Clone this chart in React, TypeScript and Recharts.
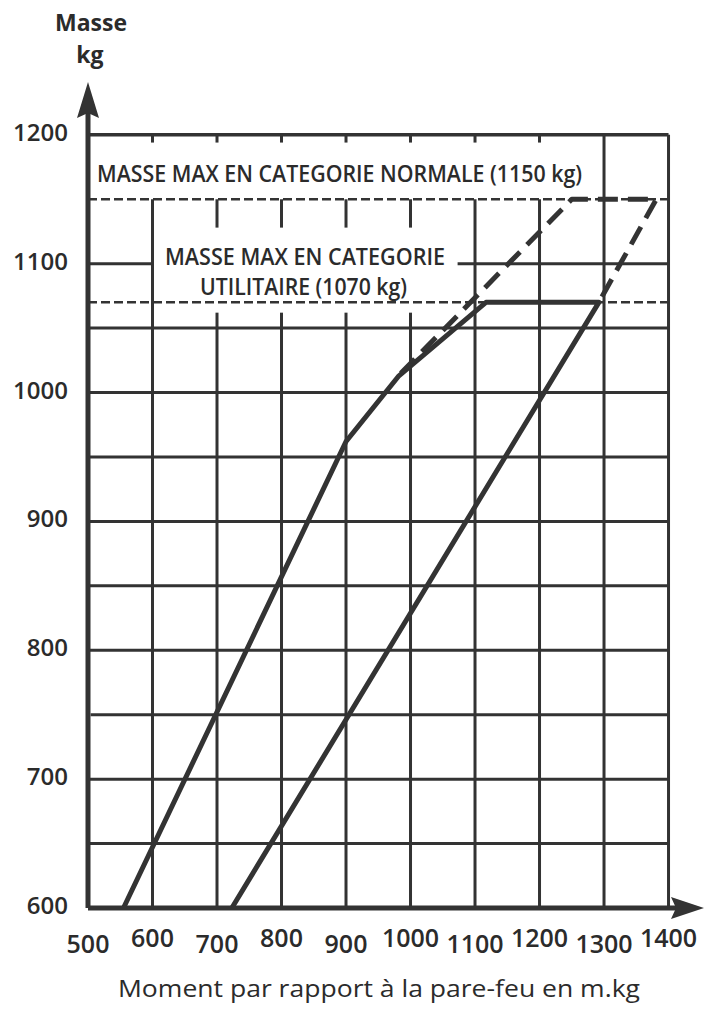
import React from 'react';
import { ComposedChart, Line, XAxis, YAxis, ReferenceLine, ReferenceDot } from 'recharts';

// axis ticks
const xTicks = [500, 600, 700, 800, 900, 1000, 1100, 1200, 1300, 1400];
const yTicks = [600, 700, 800, 900, 1000, 1100, 1200];

// catégorie utilitaire (trait plein)
const utilEnvelope = [
  { m: 555, kg: 600 },
  { m: 900, kg: 962 },
  { m: 982, kg: 1013 },
  { m: 1117, kg: 1070 },
  { m: 1292, kg: 1070 },
  { m: 723, kg: 600 },
];

// extension catégorie normale (tirets)
const normalEnvelope = [
  { m: 985, kg: 1015 },
  { m: 1250, kg: 1150 },
  { m: 1381, kg: 1150 },
  { m: 1292, kg: 1070 },
];

const massLimits = [1150, 1070];

// grid pieces
const fullRows = [650, 700, 750, 800, 850, 900, 950, 1000, 1050];
const colsTo1050 = [700, 800, 900, 1000];
const colsTo1150 = [600, 1100, 1200];
const colsTo1200 = [1300, 1400];
const topStubs = [600, 700, 800, 900, 1000, 1100, 1200];
const stubs1150 = [700, 800, 900, 1000];
const stubs1070 = [700, 800, 900, 1000];

const INK = '#333333';
const FONT = "'Open Sans', sans-serif";

const XTick = (props: any) => {
  const { x, y, payload } = props;
  const i = xTicks.indexOf(payload.value);
  return (
    <text x={x} y={y + (i % 2 === 0 ? 45 : 39)} textAnchor="middle" fontFamily={FONT} fontSize={25} fontWeight={600} fill="#2b2b2b">
      {payload.value}
    </text>
  );
};

const YTick = (props: any) => {
  const { x, y, payload } = props;
  return (
    <text x={x - 20} y={y + 6} textAnchor="end" fontFamily={FONT} fontSize={24} fontWeight={600} fill="#2b2b2b">
      {payload.value}
    </text>
  );
};

const seg = (x1: number, y1: number, x2: number, y2: number, key: string, w = 3, dash?: string) => (
  <ReferenceLine
    key={key}
    segment={[{ x: x1, y: y1 }, { x: x2, y: y2 }]}
    stroke={INK}
    strokeWidth={w}
    strokeDasharray={dash}
  />
);

export default function App() {
  return (
    <div style={{ position: 'absolute', left: 0, top: 0, background: '#fff' }}>
      <ComposedChart width={709} height={1009} margin={{ top: 82, right: 5, left: 0, bottom: 0 }}>
        <XAxis
          dataKey="m"
          type="number"
          domain={[500, 1455]}
          ticks={xTicks}
          height={101}
          axisLine={false}
          tickLine={false}
          tickSize={0}
          tickMargin={0}
          tick={<XTick />}
          interval={0}
        />
        <YAxis
          dataKey="kg"
          type="number"
          domain={[600, 1241]}
          ticks={yTicks}
          width={88}
          axisLine={false}
          tickLine={false}
          tickSize={0}
          tickMargin={0}
          tick={<YTick />}
          interval={0}
        />

        {fullRows.map((v) => seg(v === 750 ? 504 : 500, v, 1400, v, 'r' + v))}
        {seg(500, 1100, 600, 1100, 'r1100a')}
        {seg(1073, 1100, 1400, 1100, 'r1100b')}
        {seg(500, 1200, 1400, 1200, 'top', 3.5)}
        {colsTo1050.map((v) => seg(v, 600, v, 1050, 'c' + v))}
        {colsTo1150.map((v) => seg(v, 600, v, 1150, 'd' + v))}
        {colsTo1200.map((v) => seg(v, 600, v, 1200, 'e' + v))}
        {topStubs.map((v) => seg(v, 1200, v, 1194, 's' + v))}
        {stubs1150.map((v) => seg(v, 1150, v, 1128, 't' + v))}
        {stubs1070.map((v) => seg(v, 1062, v, 1050, 'u' + v))}
        {massLimits.map((v) => seg(500, v, 1400, v, 'lim' + v, 2.5, '9 4'))}

        <Line
          data={utilEnvelope}
          dataKey="kg"
          type="linear"
          stroke={INK}
          strokeWidth={5}
          strokeLinejoin="round"
          dot={false}
          activeDot={false}
          isAnimationActive={false}
        />
        <Line
          data={normalEnvelope}
          dataKey="kg"
          type="linear"
          stroke={INK}
          strokeWidth={5}
          strokeDasharray="20 10"
          strokeLinejoin="round"
          dot={false}
          activeDot={false}
          isAnimationActive={false}
        />

        {seg(500, 600, 500, 1225, 'yaxis', 5)}
        {seg(500, 600, 1440, 600, 'xaxis', 5)}

        <ReferenceDot
          x={500}
          y={1241}
          ifOverflow="visible"
          shape={(p: any) => (
            <g>
              <polygon points={`${p.cx},${p.cy} ${p.cx + 11},${p.cy + 36} ${p.cx},${p.cy + 31} ${p.cx - 11},${p.cy + 36}`} fill={INK} />
              <text x={p.cx + 3} y={p.cy - 51} textAnchor="middle" fontFamily={FONT} fontSize={23} fontWeight={700} fill="#2b2b2b">Masse</text>
              <text x={p.cx + 2} y={p.cy - 19} textAnchor="middle" fontFamily={FONT} fontSize={23} fontWeight={700} fill="#2b2b2b">kg</text>
            </g>
          )}
        />
        <ReferenceDot
          x={1455}
          y={600}
          ifOverflow="visible"
          shape={(p: any) => (
            <polygon points={`${p.cx},${p.cy} ${p.cx - 33},${p.cy - 11} ${p.cx - 28},${p.cy} ${p.cx - 33},${p.cy + 11}`} fill={INK} />
          )}
        />
        <ReferenceDot
          x={500}
          y={600}
          ifOverflow="visible"
          shape={(p: any) => (
            <text x={p.cx + 291} y={p.cy + 89} textAnchor="middle" fontFamily={FONT} fontSize={24} fontWeight={500} fill="#2b2b2b" textLength={522} lengthAdjust="spacingAndGlyphs">
              Moment par rapport à la pare-feu en m.kg
            </text>
          )}
        />
        <ReferenceDot
          x={500}
          y={1200}
          ifOverflow="visible"
          shape={(p: any) => (
            <g fontFamily={FONT} fontSize={23} fontWeight={600} fill="#2b2b2b">
              <text x={p.cx + 9} y={p.cy + 47} textLength={485} lengthAdjust="spacingAndGlyphs">MASSE MAX EN CATEGORIE NORMALE (1150 kg)</text>
              <text x={p.cx + 77} y={p.cy + 130} textLength={280} lengthAdjust="spacingAndGlyphs">MASSE MAX EN CATEGORIE</text>
              <text x={p.cx + 112} y={p.cy + 160} textLength={207} lengthAdjust="spacingAndGlyphs">UTILITAIRE (1070 kg)</text>
            </g>
          )}
        />
      </ComposedChart>
    </div>
  );
}
